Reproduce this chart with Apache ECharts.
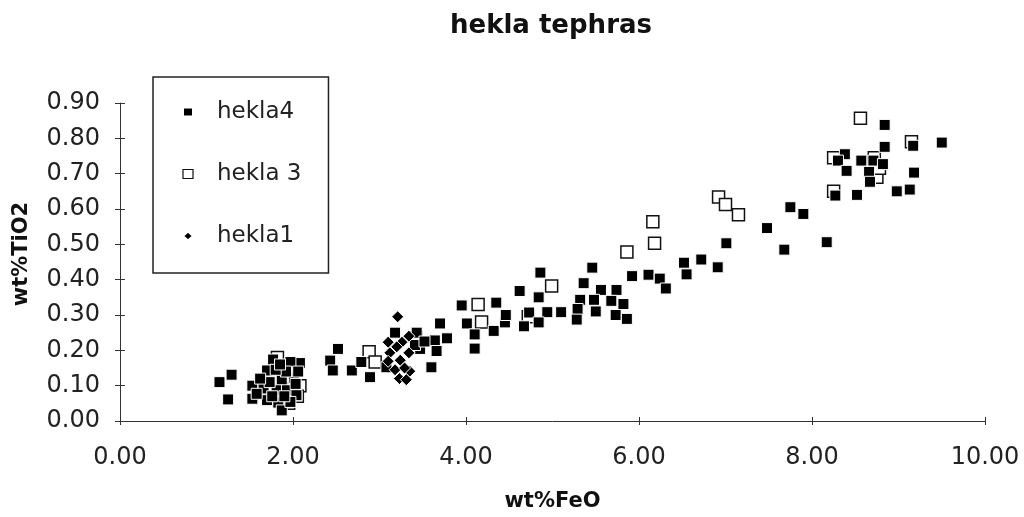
<!DOCTYPE html>
<html><head><meta charset="utf-8">
<script src="https://cdn.jsdelivr.net/npm/echarts@6/dist/echarts.min.js"></script>
<style>html,body{margin:0;padding:0;background:#fff}#c{width:1024px;height:517px}</style>
</head><body><div id="c"></div>
<script>
const seriesNames = ['hekla4', 'hekla 3', 'hekla1'];
const xTicks = [0, 2, 4, 6, 8, 10];
const yTicks = [0, 0.1, 0.2, 0.3, 0.4, 0.5, 0.6, 0.7, 0.8, 0.9];

const hekla4 = [
  [1.15,0.110],[1.29,0.131],[1.25,0.061],[1.53,0.100],[1.53,0.063],
  [1.77,0.174],[2.08,0.164],[1.97,0.167],[1.70,0.143],[1.87,0.115],[2.01,0.122],[1.66,0.092],
  [1.81,0.087],[1.93,0.087],[2.04,0.073],[1.70,0.059],[1.83,0.052],[1.87,0.030],[1.97,0.054],
  [1.58,0.077],[1.73,0.110],[1.62,0.120],[1.92,0.140],[1.80,0.145],[1.85,0.160],[2.03,0.105],
  [1.76,0.070],[1.90,0.070],[2.06,0.140],
  [2.52,0.204],[2.43,0.171],[2.46,0.143],[2.68,0.143],[2.79,0.167],[2.89,0.124],[3.08,0.152],
  [3.18,0.250],[3.43,0.250],[3.47,0.204],[3.64,0.228],[3.78,0.234],[3.70,0.276],[3.60,0.152],
  [3.66,0.198],[3.41,0.215],[3.52,0.225],
  [3.95,0.327],[4.35,0.335],[4.01,0.276],[4.10,0.245],[4.32,0.255],[4.10,0.205],[4.45,0.279],
  [4.46,0.300],[4.86,0.420],[4.62,0.368],[4.84,0.350],[4.73,0.307],[4.94,0.308],[5.10,0.308],
  [4.84,0.279],[4.67,0.268],
  [5.46,0.434],[5.36,0.390],[5.56,0.371],[5.74,0.371],[5.92,0.410],[5.32,0.343],[5.48,0.343],
  [5.68,0.340],[5.82,0.331],[5.29,0.317],[5.50,0.310],[5.28,0.287],[5.73,0.300],[5.86,0.289],
  [6.11,0.414],[6.24,0.403],[6.31,0.375],[6.52,0.448],[6.55,0.415],[6.72,0.457],[6.91,0.435],
  [7.01,0.503],[7.48,0.546],[7.68,0.485],[7.75,0.605],[7.90,0.586],[8.17,0.506],
  [8.27,0.638],[8.84,0.838],[8.84,0.776],[9.17,0.779],[9.50,0.788],[8.38,0.755],[8.30,0.737],
  [8.57,0.737],[8.71,0.737],[8.82,0.727],[8.40,0.708],[8.66,0.705],[9.18,0.703],[8.67,0.677],
  [8.52,0.640],[8.98,0.650],[9.13,0.655]
];

const hekla3 = [
  [1.82,0.180],[1.90,0.125],[2.08,0.100],[2.05,0.070],[1.95,0.050],[1.75,0.085],
  [2.88,0.196],[2.95,0.167],[3.42,0.235],
  [4.14,0.330],[4.18,0.280],[4.99,0.382],[4.72,0.295],
  [5.86,0.478],[6.16,0.564],[6.18,0.503],[6.92,0.634],[7.00,0.613],[7.15,0.584],
  [8.56,0.857],[8.25,0.745],[8.75,0.690],[8.72,0.745],[9.15,0.790],[8.25,0.650],[8.78,0.715]
];

const hekla1 = [
  [3.21,0.295],[3.10,0.223],[3.26,0.223],[3.34,0.240],[3.12,0.193],[3.34,0.193],[3.24,0.172],
  [3.10,0.169],[3.35,0.141],[3.23,0.120],[3.31,0.117],[3.18,0.145],[3.29,0.150],[3.20,0.210]
];

const FONT = 'DejaVu Sans';
const fmt2 = v => Number(v).toFixed(2);
const xMin = xTicks[0], xMax = xTicks[xTicks.length - 1], xInt = xTicks[1] - xTicks[0];
const yMin = yTicks[0], yMax = yTicks[yTicks.length - 1], yInt = 0.1;

const chart = echarts.init(document.getElementById('c'), null, {renderer: 'canvas'});
chart.setOption({
  animation: false,
  backgroundColor: '#fff',
  title: {
    text: 'hekla tephras', left: 450, top: 13, padding: 0,
    textStyle: {fontFamily: FONT, fontWeight: 'bold', fontSize: 26, color: '#111'}
  },
  legend: {
    orient: 'vertical', left: 153, top: 77, padding: [23, 27, 25, 29],
    itemGap: 38, itemWidth: 10, itemHeight: 9,
    borderColor: '#222', borderWidth: 1.5, borderRadius: 0,
    textStyle: {fontFamily: FONT, fontSize: 23, color: '#222', lineHeight: 24, padding: [0, 0, 0, 19]},
    data: [
      {name: seriesNames[0]},
      {name: seriesNames[1], itemStyle: {borderWidth: 1.2}},
      {name: seriesNames[2]}
    ]
  },
  grid: {left: 120, right: 39, top: 103, bottom: 95},
  xAxis: [{
    type: 'value', min: xMin, max: xMax, interval: xInt,
    axisLine: {lineStyle: {color: '#333', width: 1}},
    axisTick: {length: 4, lineStyle: {color: '#333'}},
    splitLine: {show: false},
    axisLabel: {margin: 25, formatter: fmt2, fontFamily: FONT, fontSize: 24, color: '#222'},
    name: 'wt%FeO', nameLocation: 'middle', nameGap: 70,
    nameTextStyle: {fontFamily: FONT, fontWeight: 'bold', fontSize: 21, color: '#111'}
  }, {
    type: 'value', min: xMin, max: xMax, interval: xInt, position: 'bottom',
    axisLine: {show: false},
    axisTick: {inside: true, length: 4, lineStyle: {color: '#333'}},
    axisLabel: {show: false}, splitLine: {show: false}
  }],
  yAxis: [{
    type: 'value', min: yMin, max: yMax, interval: yInt,
    axisLine: {show: true, lineStyle: {color: '#333', width: 1}},
    axisTick: {show: true, length: 5, lineStyle: {color: '#333'}},
    splitLine: {show: false},
    axisLabel: {margin: 20, formatter: fmt2, fontFamily: FONT, fontSize: 24, color: '#222'},
    name: 'wt%TiO2', nameLocation: 'middle', nameGap: 88, nameRotate: 90,
    nameTextStyle: {fontFamily: FONT, fontWeight: 'bold', fontSize: 21, color: '#111', padding: [0, 0, 0, 16]}
  }, {
    type: 'value', min: yMin, max: yMax, interval: yInt, position: 'left',
    axisLine: {show: false},
    axisTick: {show: true, inside: true, length: 5, lineStyle: {color: '#333'}},
    axisLabel: {show: false}, splitLine: {show: false}
  }],
  series: [{
    name: 'hekla 3', type: 'scatter', data: hekla3, symbol: 'rect', symbolSize: 12,
    itemStyle: {color: '#fff', borderColor: '#111', borderWidth: 1.5, opacity: 1}
  }, {
    name: 'hekla4', type: 'scatter', data: hekla4, symbol: 'rect', symbolSize: 11,
    itemStyle: {color: '#000', borderColor: '#fff', borderWidth: 1, opacity: 1}
  }, {
    name: 'hekla1', type: 'scatter', data: hekla1, symbol: 'diamond', symbolSize: 12,
    itemStyle: {color: '#000', borderColor: '#fff', borderWidth: 1, opacity: 1}
  }]
});
</script>
</body></html>
